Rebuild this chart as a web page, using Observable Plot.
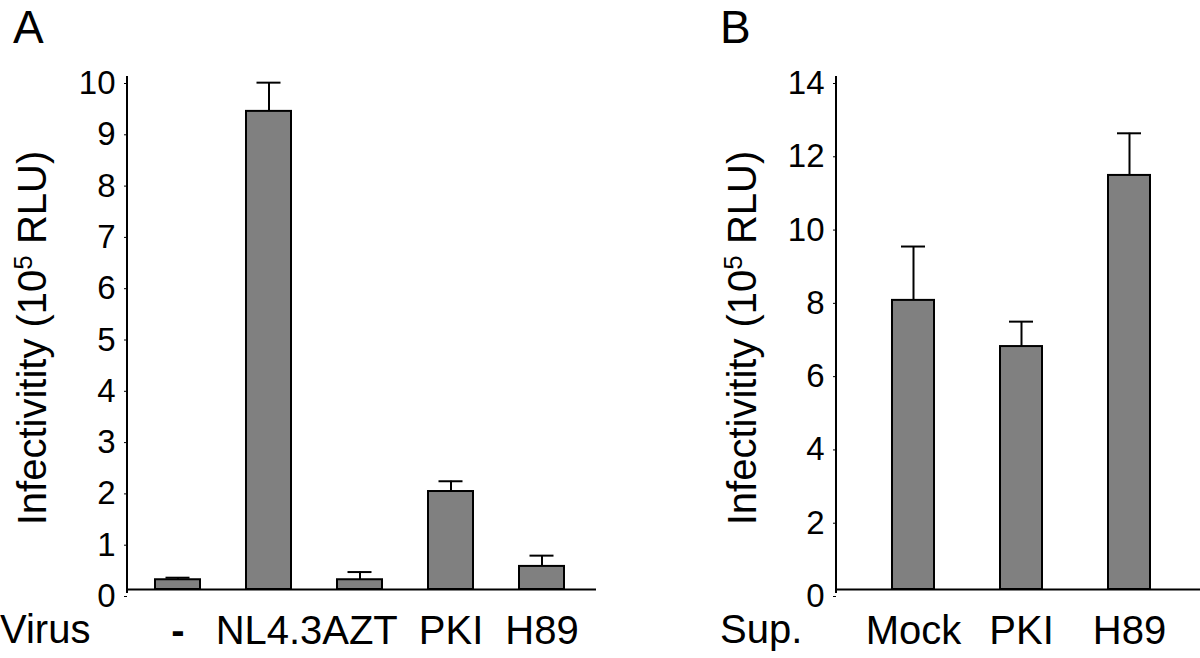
<!DOCTYPE html>
<html><head><meta charset="utf-8">
<script src="https://cdn.jsdelivr.net/npm/d3@7"></script>
<script src="https://cdn.jsdelivr.net/npm/@observablehq/plot@0.6"></script>
<style>
body{margin:0;background:#fff;}
#wrap{position:relative;width:1200px;height:658px;display:flex;}
#wrap svg{font-family:"Liberation Sans",Arial,Helvetica,sans-serif;}
</style></head><body><div id="wrap"></div>
<script>
// Panel A
const catsA = ["-", "NL4.3", "AZT", "PKI", "H89"];
const valuesA = [0.19, 9.32, 0.19, 1.91, 0.45];
const errorsA = [0.04, 0.56, 0.15, 0.20, 0.21];
const ticksA = [0, 1, 2, 3, 4, 5, 6, 7, 8, 9, 10];
// Panel B
const catsB = ["Mock", "PKI", "H89"];
const valuesB = [7.89, 6.63, 11.30];
const errorsB = [1.47, 0.68, 1.15];
const ticksB = [0, 2, 4, 6, 8, 10, 12, 14];

const FONT = '"Liberation Sans",Arial,Helvetica,sans-serif';

function panel(o) {
  const data = o.cats.map((c, i) => ({cat: c, value: o.values[i], err: o.errors[i]}));
  const W = 600, H = 658, mt = 76, mb = 69;
  const decor = (index, scales, values, dims) => {
    const g = d3.create("svg:g").attr("font-family", FONT).attr("text-anchor", "start").attr("fill", "black");
    const x0 = dims.marginLeft, yb = dims.height - dims.marginBottom;
    g.append("line").attr("x1", x0).attr("x2", x0).attr("y1", dims.marginTop).attr("y2", yb + 4)
      .attr("stroke", "black").attr("stroke-width", 2);
    // panel letter
    g.append("text").attr("x", o.letterX).attr("y", 43).attr("font-size", 46).text(o.letter);
    // category title
    g.append("text").attr("x", o.catTitleX).attr("y", 643).attr("font-size", 40).text(o.catTitle);
    // y title
    const t = g.append("text").attr("font-size", 40).attr("text-anchor", "middle")
      .attr("transform", `translate(${o.yTitleX},338) rotate(-90)`);
    t.append("tspan").text("Infectivitity (10");
    t.append("tspan").attr("font-size", 26).attr("dy", -14).text("5");
    t.append("tspan").attr("dy", 14).text(" RLU)");
    return g.node();
  };
  const svg = Plot.plot({
    width: W, height: H,
    marginTop: mt, marginBottom: mb, marginLeft: o.marginLeft, marginRight: o.marginRight,
    style: {fontFamily: FONT, background: "white", color: "black", overflow: "visible"},
    x: {domain: o.cats, paddingInner: o.paddingInner, paddingOuter: o.paddingOuter, align: o.align},
    y: {domain: [0, o.yMax]},
    marks: [
      Plot.barY(data, {x: "cat", y: "value", fill: "#808080", stroke: "black", strokeWidth: 2}),
      Plot.ruleX(data, {x: "cat", y1: "value", y2: d => d.value + d.err, stroke: "black", strokeWidth: 2}),
      Plot.tickY(data, {x: "cat", y: d => d.value + d.err, stroke: "black", strokeWidth: 2,
        insetLeft: o.capInset, insetRight: o.capInset}),
      Plot.ruleY([0], {stroke: "black", strokeWidth: 2}),
      Plot.axisY({ticks: o.ticks, tickSize: 3, tickPadding: 9, fontSize: 33, dy: 7, label: null, tickFormat: d3.format("d")}),
      Plot.axisX({tickSize: 0, tickPadding: 26, fontSize: 40, label: null}),
      decor
    ]
  });
  // the reference's "-" category label is a heavy dash
  d3.select(svg).selectAll("text").filter(function() { return this.textContent === "-"; })
    .attr("font-weight", "bold");
  return svg;
}

const wrap = document.getElementById("wrap");
wrap.appendChild(panel({
  cats: catsA, values: valuesA, errors: errorsA, ticks: ticksA, yMax: 10,
  marginLeft: 127, marginRight: 4, paddingInner: 0.51, paddingOuter: 0.31, align: 0.47, capInset: 10.5,
  letter: "A", letterX: 13, catTitle: "Virus", catTitleX: 0, yTitleX: 46
}));
wrap.appendChild(panel({
  cats: catsB, values: valuesB, errors: errorsB, ticks: ticksB, yMax: 14,
  marginLeft: 236, marginRight: 0, paddingInner: 0.61, paddingOuter: 0.49, align: 0.53, capInset: 9,
  letter: "B", letterX: 120, catTitle: "Sup.", catTitleX: 120, yTitleX: 156
}));
</script></body></html>
